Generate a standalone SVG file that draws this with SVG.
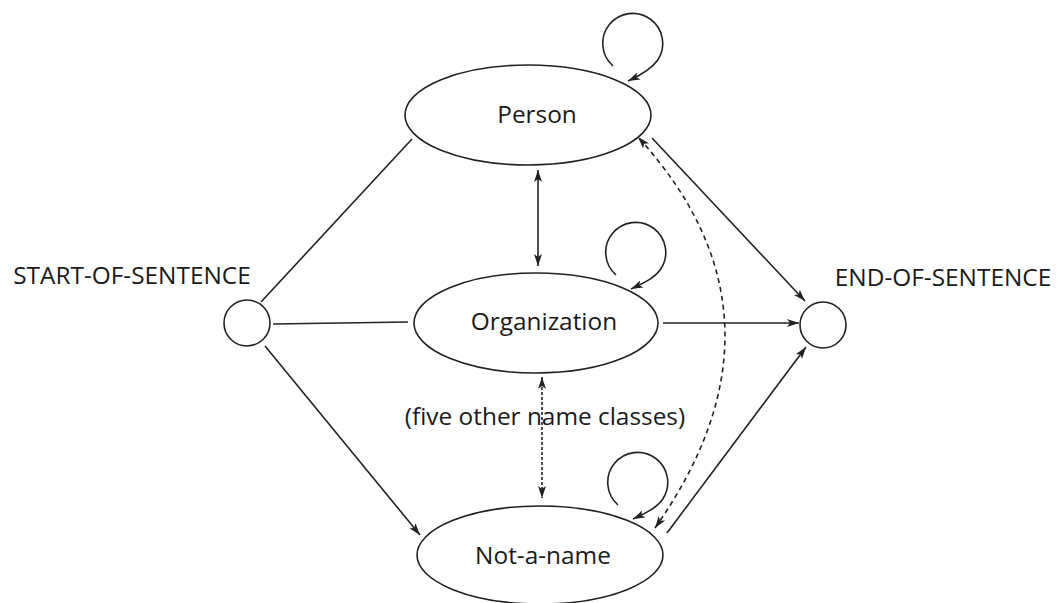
<svg xmlns="http://www.w3.org/2000/svg" width="1057" height="603" viewBox="0 0 1057 603">
<style>
.node{fill:#fff;stroke:#222;stroke-width:1.6}
.lbl{font-family:"Open Sans","DejaVu Sans",sans-serif;font-size:24.4px;fill:#1a1a1a;text-anchor:middle}
.edge{fill:none;stroke:#222;stroke-width:1.6}
.dash{stroke-dasharray:5,4}
.dots{stroke-dasharray:3,2}
</style>
<defs>
<marker id="ah" viewBox="0 0 12 8" refX="12" refY="4" markerWidth="12" markerHeight="8" markerUnits="userSpaceOnUse" orient="auto-start-reverse">
<path d="M0,0 L12,4 L0,8 L3,4 z" fill="#222"/>
</marker>
</defs>
<rect width="1057" height="603" fill="#fff"/>
<g id="connectors">
<line class="edge" x1="261" y1="302" x2="412" y2="139"/>
<line class="edge" x1="273" y1="324" x2="408" y2="322"/>
<line class="edge" x1="265" y1="346" x2="420" y2="535" marker-end="url(#ah)"/>
<line class="edge" x1="538" y1="170" x2="538" y2="266" marker-start="url(#ah)" marker-end="url(#ah)"/>
<line class="edge dots" x1="542" y1="377" x2="542" y2="498" marker-start="url(#ah)" marker-end="url(#ah)"/>
<line class="edge" x1="663" y1="323" x2="799" y2="323" marker-end="url(#ah)"/>
<line class="edge" x1="652" y1="138" x2="805" y2="301" marker-end="url(#ah)"/>
<line class="edge" x1="667" y1="533" x2="806" y2="347" marker-end="url(#ah)"/>
<path class="edge dash" d="M655,528 Q803,318 638,137" marker-start="url(#ah)" marker-end="url(#ah)"/>
<path class="edge" transform="translate(633,43)" d="M-20,23 A30,30 0 1 1 24.6,17.2 C18.6,25.8 8,32 -5,38" marker-end="url(#ah)"/>
<path class="edge" transform="translate(636,252)" d="M-20,23 A30,30 0 1 1 24.6,17.2 C18.6,25.8 8,31 -5,37" marker-end="url(#ah)"/>
<path class="edge" transform="translate(638,482)" d="M-20,23 A30,30 0 1 1 24.6,17.2 C18.6,25.8 8,31 -5,37" marker-end="url(#ah)"/>
</g>
<g id="start">
<circle class="node" cx="247" cy="323" r="23"/>
<text class="lbl" x="132" y="284">START-OF-SENTENCE</text>
</g>
<g id="end">
<circle class="node" cx="823" cy="325" r="23"/>
<text class="lbl" x="943" y="286">END-OF-SENTENCE</text>
</g>
<g id="person">
<ellipse class="node" cx="528" cy="115" rx="123" ry="50"/>
<text class="lbl" x="537" y="123">Person</text>
</g>
<g id="organization">
<ellipse class="node" cx="536" cy="323" rx="122" ry="50"/>
<text class="lbl" x="544" y="330">Organization</text>
</g>
<g id="notaname">
<ellipse class="node" cx="540" cy="555" rx="123" ry="49"/>
<text class="lbl" x="543" y="564">Not-a-name</text>
</g>
<g id="others">
<text class="lbl" x="545" y="425">(five other name classes)</text>
</g>
</svg>
